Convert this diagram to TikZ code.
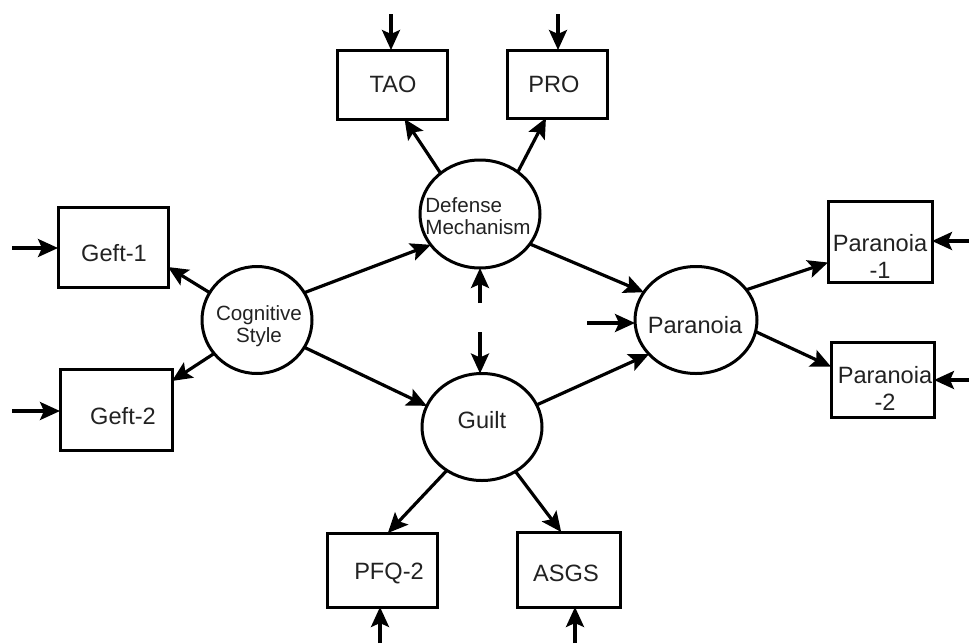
\documentclass[tikz,border=0pt]{standalone}
\usepackage{fontspec}
\setmainfont{Liberation Sans}
\usetikzlibrary{shapes.geometric,arrows.meta}
\definecolor{inkgray}{HTML}{222222}
\begin{document}
\begin{tikzpicture}[x=0.5pt,y=-0.5pt,
  every node/.style={inner sep=0pt, outer sep=0pt},
  manifest/.style={draw, line width=1.5pt, rectangle},
  latent/.style={draw, line width=1.5pt, ellipse},
  bigtext/.style={font=\fontsize{11.8}{13.5}\selectfont, align=center, text=inkgray},
  smalltext/.style={font=\fontsize{10.3}{11}\selectfont, text=inkgray},
  conn/.style={line width=1.6pt, -{Stealth[length=10pt,width=9pt,inset=2pt]}}
]
\useasboundingbox (0,0) rectangle (969,643);

% latent variables
\node[latent, minimum width=55pt, minimum height=53.5pt] (cs) at (257,320) {};
\node[latent, minimum width=60pt, minimum height=54pt]   (dm) at (480,214) {};
\node[latent, minimum width=60pt, minimum height=53.5pt] (gu) at (482,427) {};
\node[latent, minimum width=61pt, minimum height=53.5pt] (par) at (696,320) {};

\node[smalltext, align=center] (cs-t) at (259,326) {Cognitive\\Style};
\node[smalltext, align=left]   (dm-t) at (478,216) {Defense\\Mechanism};
\node[bigtext] (gu-t)  at (482,420) {Guilt};
\node[bigtext] (par-t) at (695,325) {Paranoia};

% observed indicators
\node[manifest, minimum width=55pt, minimum height=34.5pt] (tao)  at (392,84.5) {};
\node[manifest, minimum width=50pt, minimum height=34pt]   (pro)  at (557,84) {};
\node[manifest, minimum width=55pt, minimum height=40pt]   (g1)   at (113,247) {};
\node[manifest, minimum width=56pt, minimum height=40.5pt] (g2)   at (116,409.5) {};
\node[manifest, minimum width=52pt, minimum height=40.5pt] (p1)   at (880,241.5) {};
\node[manifest, minimum width=51.5pt, minimum height=37.5pt] (p2) at (882.5,379.5) {};
\node[manifest, minimum width=55pt, minimum height=37pt]   (pfq)  at (382,570) {};
\node[manifest, minimum width=51.5pt, minimum height=37.5pt] (asgs) at (568.5,569.5) {};

\node[bigtext] (tao-t)  at (393,84)  {TAO};
\node[bigtext] (pro-t)  at (554,84)  {PRO};
\node[bigtext] (g1-t)   at (114,253) {Geft-1};
\node[bigtext] (g2-t)   at (123,416) {Geft-2};
\node[bigtext] (p1-t)   at (880,256) {Paranoia\\-1};
\node[bigtext] (p2-t)   at (885,388) {Paranoia\\-2};
\node[bigtext] (pfq-t)  at (389,573) {PFQ-2};
\node[bigtext] (asgs-t) at (566,573) {ASGS};

% structural and measurement paths
\draw[conn] (cs.150)  -- (g1.-20);
\draw[conn] (cs.218)  -- (g2.27);
\draw[conn] (cs.30)   -- (dm.212);
\draw[conn] (cs.-30)  -- (gu.159);
\draw[conn] (dm.134)  -- (tao.-70);
\draw[conn] (dm.48)   -- (pro.-108);
\draw[conn] (dm.-31)  -- (par.152);
\draw[conn] (gu.22)   -- (par.216);
\draw[conn] (gu.-129) -- (pfq.81);
\draw[conn] (gu.-53)  -- (asgs.101);
\draw[conn] (par.31)  -- (p1.-158);
\draw[conn] (par.-11) -- (p2.166);

% error / disturbance terms
\coordinate (e-tao)  at (391,14);
\coordinate (e-pro)  at (558,14);
\coordinate (e-g1)   at (12,248);
\coordinate (e-g2)   at (12,411);
\coordinate (e-dm)   at (480,303);
\coordinate (e-gu)   at (480,332);
\coordinate (e-par)  at (587,323);
\coordinate (e-p1)   at (969,241);
\coordinate (e-p2)   at (969,380);
\coordinate (e-pfq)  at (380,643);
\coordinate (e-asgs) at (575,643);

\draw[conn] (e-tao)  -- (e-tao |- tao.north);
\draw[conn] (e-pro)  -- (e-pro |- pro.north);
\draw[conn] (e-g1)   -- (e-g1 -| g1.west);
\draw[conn] (e-g2)   -- (e-g2 -| g2.west);
\draw[conn] (e-dm)   -- (e-dm |- dm.south);
\draw[conn] (e-gu)   -- (e-gu |- gu.north);
\draw[conn] (e-par)  -- (par.west |- e-par);
\draw[conn] (e-p1)   -- (e-p1 -| p1.east);
\draw[conn] (e-p2)   -- (e-p2 -| p2.east);
\draw[conn] (e-pfq)  -- (e-pfq |- pfq.south);
\draw[conn] (e-asgs) -- (e-asgs |- asgs.south);
\end{tikzpicture}
\end{document}
